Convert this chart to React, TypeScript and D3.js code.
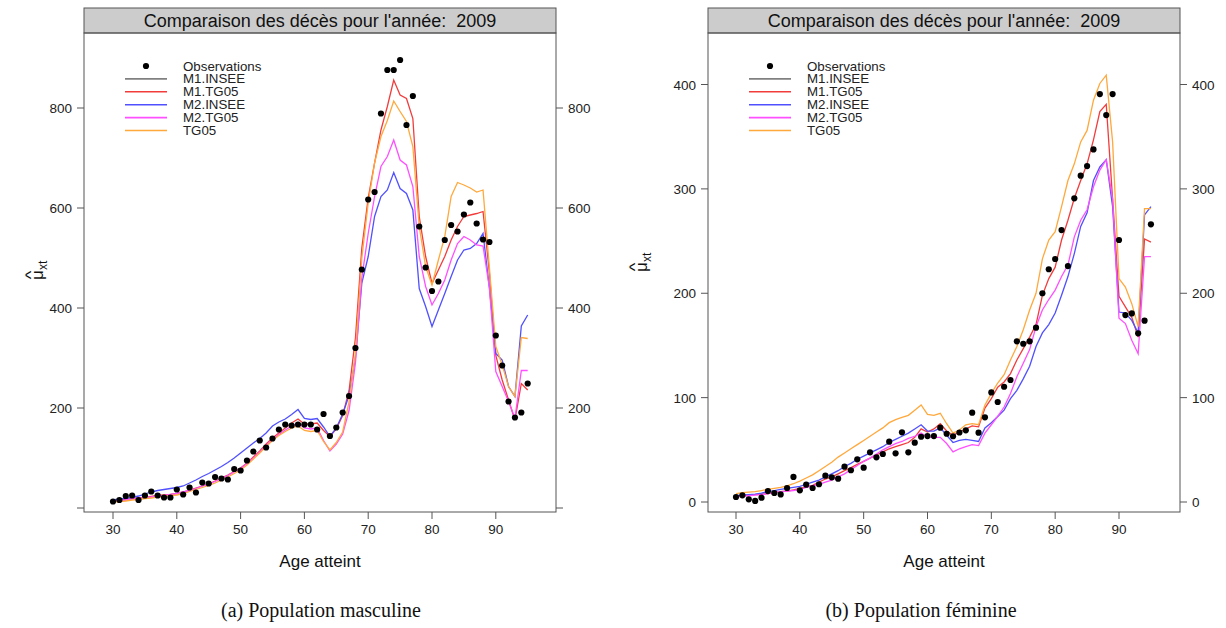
import React from "react";
import * as d3 from "d3";

// Ages (x axis categories)
const AGES = [30, 31, 32, 33, 34, 35, 36, 37, 38, 39, 40, 41, 42, 43, 44, 45, 46, 47, 48, 49, 50, 51, 52, 53, 54, 55, 56, 57, 58, 59, 60, 61, 62, 63, 64, 65, 66, 67, 68, 69, 70, 71, 72, 73, 74, 75, 76, 77, 78, 79, 80, 81, 82, 83, 84, 85, 86, 87, 88, 89, 90, 91, 92, 93, 94, 95];

// --- Population masculine ---
const OBS_MALE = [13, 16, 24, 25, 16, 25, 33, 25, 21, 21, 37, 27, 41, 31, 51, 49, 62, 59, 57, 78, 75, 95, 113, 135, 121, 139, 157, 167, 165, 167, 167, 167, 157, 188, 144, 161, 191, 224, 320, 477, 617, 632, 789, 876, 876, 896, 766, 824, 563, 481, 434, 453, 536, 566, 553, 587, 611, 569, 537, 532, 345, 285, 213, 181, 191, 249];
const M1_TG05_MALE = [15, 16, 17, 19, 20, 21, 23, 25, 26, 27, 29, 32, 36, 40, 44, 48, 54, 60, 66, 73, 80, 90, 102, 114, 128, 140, 150, 160, 170, 178, 168, 168, 170, 155, 143, 158, 185, 235, 340, 520, 620, 690, 756, 803, 856, 826, 819, 779, 583, 503, 449, 476, 503, 536, 563, 583, 586, 589, 593, 470, 305, 256, 216, 176, 249, 236];
const M2_INSEE_MALE = [16, 18, 19, 21, 24, 28, 32, 35, 37, 39, 41, 44, 50, 56, 63, 69, 76, 83, 91, 100, 110, 120, 130, 139, 150, 164, 172, 178, 187, 197, 179, 177, 179, 162, 143, 160, 188, 225, 300, 450, 503, 583, 623, 636, 671, 639, 629, 596, 439, 403, 363, 396, 429, 463, 496, 516, 519, 529, 549, 440, 309, 296, 243, 223, 364, 386];
const M2_TG05_MALE = [14, 15, 16, 18, 19, 21, 22, 24, 25, 27, 29, 32, 35, 39, 44, 48, 53, 59, 65, 72, 79, 89, 100, 112, 125, 137, 147, 156, 164, 170, 160, 158, 160, 135, 114, 128, 148, 195, 290, 460, 549, 623, 683, 703, 736, 696, 686, 643, 503, 443, 406, 429, 456, 496, 529, 543, 536, 526, 524, 440, 273, 243, 213, 179, 275, 275];
const TG05_MALE = [12, 13, 14, 16, 17, 19, 20, 22, 23, 25, 26, 29, 33, 37, 41, 45, 50, 56, 62, 69, 76, 86, 98, 110, 123, 135, 145, 153, 160, 164, 155, 153, 155, 133, 116, 131, 152, 212, 310, 500, 610, 690, 743, 775, 814, 793, 773, 723, 563, 483, 446, 496, 543, 623, 651, 646, 640, 632, 636, 480, 323, 286, 243, 223, 341, 339];

// --- Population féminine ---
const OBS_FEMALE = [4.8, 6.4, 2.6, 1, 4.1, 10.5, 8.6, 7.3, 13.4, 24, 11.2, 16.6, 13.4, 17, 25.2, 23.6, 22.3, 33.8, 30.4, 40.9, 32.9, 47.6, 42.8, 46, 57.8, 46.6, 66.8, 47.6, 56.8, 62.5, 63.2, 63.2, 71.2, 65.4, 63, 66.6, 68.7, 85.6, 66.4, 81.1, 105, 95.8, 110.4, 116.9, 153.9, 151.6, 153.9, 167, 200, 223, 232.8, 260.5, 226, 290.9, 312.6, 321.8, 337.8, 390.8, 370.7, 390.8, 251, 179.1, 180.7, 161.6, 173.7, 266];
const M1_TG05_FEMALE = [5, 6, 6.5, 7, 7.5, 8, 9, 10, 10.5, 11.5, 13, 14.5, 16, 19, 22, 24, 27, 30, 33, 36, 39, 42, 45, 48, 51, 53, 55, 57, 62, 70, 67, 70, 75, 68, 64, 67, 70, 73, 72, 90, 99, 110, 115, 123, 136, 147, 158, 170, 198, 214, 225, 251, 270, 291, 308, 324, 347, 374, 381, 290, 197, 187, 177, 158, 252, 249];
const M2_INSEE_FEMALE = [6, 6.5, 7, 7.5, 8.5, 10, 11, 12, 13, 14, 15, 17, 19, 21, 24, 27, 30, 34, 37, 41, 44, 47, 50, 53, 57, 60, 63, 66, 70, 74, 68, 68, 71, 64, 57, 59, 60, 59, 58, 71, 76, 82, 88, 99, 107, 118, 130, 149, 162, 170, 181, 198, 216, 238, 264, 277, 308, 321, 328, 283, 182, 181, 174, 162, 275, 283];
const M2_TG05_FEMALE = [5, 5.5, 6, 6.5, 7, 8, 9, 10, 10.5, 11, 12, 14, 15.5, 17, 19, 21, 24, 27, 31, 35, 39, 42, 46, 50, 53, 56, 58, 61, 63, 66, 62, 62, 62, 56, 48, 51, 53, 55, 54, 66, 74, 82, 91, 104, 120, 133, 146, 168, 184, 194, 203, 216, 227, 254, 270, 280, 302, 318, 328, 290, 176, 171, 155, 142, 235, 235];
const TG05_FEMALE = [8, 9, 9.5, 10, 11, 12, 13, 14, 15.5, 17.5, 20, 23, 26, 30, 34, 38, 43, 47, 51, 55, 59, 63, 67, 71, 76, 79, 81, 83, 88, 93, 84, 83, 85, 75, 66, 69, 74, 75, 74, 93, 104, 114, 122, 136, 149, 165, 184, 200, 233, 251, 259, 283, 308, 324, 345, 356, 385, 401, 409, 345, 214, 206, 190, 168, 281, 281];

const X_TICKS = [30, 40, 50, 60, 70, 80, 90];
const Y_TICKS_MALE = [0, 200, 400, 600, 800];
const Y_LABELS_MALE = ["", "200", "400", "600", "800"];
const Y_TICKS_FEMALE = [0, 100, 200, 300, 400];
const Y_LABELS_FEMALE = ["0", "100", "200", "300", "400"];

const TITLE = "Comparaison des décès pour l'année:  2009";
const X_TITLE = "Age atteint";
const LEGEND_LABELS = ["Observations", "M1.INSEE", "M1.TG05", "M2.INSEE", "M2.TG05", "TG05"];
const SERIES_COLORS = ["#000000", "#808080", "#f23c3c", "#5050ff", "#ff50ff", "#ffa83c"];

const SANS = "'Liberation Sans', Arial, Helvetica, sans-serif";
const SERIF = "'Liberation Serif', 'DejaVu Serif', serif";

type PanelProps = {
  left: number;
  right: number;
  xRange: [number, number];
  yDomain: [number, number];
  yRange: [number, number];
  yTicks: number[];
  yLabels: string[];
  obs: number[];
  m1Tg05: number[];
  m2Insee: number[];
  m2Tg05: number[];
  tg05: number[];
  yTitleY: number;
  yTitleX: number;
  caption: string;
  captionX: number;
};

const STRIP_TOP = 8;
const STRIP_BOTTOM = 33;
const BOX_BOTTOM = 512;

function Panel(p: PanelProps) {
  const x = d3.scaleLinear().domain([30, 90]).range(p.xRange);
  const y = d3.scaleLinear().domain(p.yDomain).range(p.yRange);
  const line = d3
    .line<number>()
    .x((_, i) => x(AGES[i]))
    .y((d) => y(d));
  const cx = (p.left + p.right) / 2;
  const series: [number[], string][] = [
    [p.m1Tg05, SERIES_COLORS[2]],
    [p.m2Insee, SERIES_COLORS[3]],
    [p.m2Tg05, SERIES_COLORS[4]],
    [p.tg05, SERIES_COLORS[5]],
  ];
  const tickLen = 7;
  const axisColor = "#555";
  return (
    <g>
      {/* strip */}
      <rect x={p.left} y={STRIP_TOP} width={p.right - p.left} height={STRIP_BOTTOM - STRIP_TOP} fill="#cccccc" stroke={axisColor} strokeWidth={1} />
      <text x={cx} y={27} textAnchor="middle" fontFamily={SANS} fontSize={18} fill="#111" style={{ whiteSpace: "pre" }}>
        {TITLE}
      </text>
      {/* plot area */}
      <clipPath id={`clip-${p.left}`}>
        <rect x={p.left} y={STRIP_BOTTOM} width={p.right - p.left} height={BOX_BOTTOM - STRIP_BOTTOM} />
      </clipPath>
      <g clipPath={`url(#clip-${p.left})`}>
        {series.map(([vals, color], k) => (
          <path key={k} d={line(vals) || ""} fill="none" stroke={color} strokeWidth={1.3} />
        ))}
        {p.obs.map((v, i) => (
          <circle key={i} cx={x(AGES[i])} cy={y(v)} r={3.1} fill="#000" />
        ))}
      </g>
      <rect x={p.left} y={STRIP_BOTTOM} width={p.right - p.left} height={BOX_BOTTOM - STRIP_BOTTOM} fill="none" stroke={axisColor} strokeWidth={1} />
      {/* x axis */}
      {X_TICKS.map((t) => (
        <g key={t}>
          <line x1={x(t)} x2={x(t)} y1={BOX_BOTTOM} y2={BOX_BOTTOM + tickLen} stroke={axisColor} />
          <text x={x(t)} y={BOX_BOTTOM + 22} textAnchor="middle" fontFamily={SANS} fontSize={13.5} fill="#222">
            {t}
          </text>
        </g>
      ))}
      {/* y axes on both sides */}
      {p.yTicks.map((t, i) => (
        <g key={t}>
          <line x1={p.left} x2={p.left - tickLen} y1={y(t)} y2={y(t)} stroke={axisColor} />
          <line x1={p.right} x2={p.right + tickLen} y1={y(t)} y2={y(t)} stroke={axisColor} />
          <text x={p.left - 12} y={y(t) + 5} textAnchor="end" fontFamily={SANS} fontSize={13.5} fill="#222">
            {p.yLabels[i]}
          </text>
          <text x={p.right + 12} y={y(t) + 5} textAnchor="start" fontFamily={SANS} fontSize={13.5} fill="#222">
            {p.yLabels[i]}
          </text>
        </g>
      ))}
      {/* axis titles */}
      <text x={cx} y={567} textAnchor="middle" fontFamily={SANS} fontSize={17} fill="#111">
        {X_TITLE}
      </text>
      <g transform={`translate(${p.yTitleX},${p.yTitleY}) rotate(-90)`} fontFamily={SANS} fill="#111">
        <text x={-10} y={0} fontSize={17}>μ</text>
        <text x={-5} y={-7} fontSize={14} textAnchor="middle" transform="scale(1.3,1)" style={{ transformBox: "fill-box", transformOrigin: "center" }}>^</text>
        <text x={0} y={4} fontSize={12}>xt</text>
      </g>
      {/* legend */}
      {LEGEND_LABELS.map((lab, i) => {
        const ly = 66 + i * 12.9;
        return (
          <g key={lab}>
            {i === 0 ? (
              <circle cx={p.left + 62} cy={ly} r={3.1} fill="#000" />
            ) : (
              <line x1={p.left + 41} x2={p.left + 83} y1={ly} y2={ly} stroke={SERIES_COLORS[i]} strokeWidth={1.6} />
            )}
            <text x={p.left + 99} y={ly + 4.5} fontFamily={SANS} fontSize={13.3} fill="#222">
              {lab}
            </text>
          </g>
        );
      })}
      {/* caption */}
      <text x={p.captionX} y={617} textAnchor="middle" fontFamily={SERIF} fontSize={20} fill="#111">
        {p.caption}
      </text>
    </g>
  );
}

export default function App() {
  return (
    <svg width={1226} height={628} style={{ position: "absolute", left: 0, top: 0, background: "#fff" }}>
      <rect width={1226} height={628} fill="#fff" />
      <Panel
        left={84}
        right={556}
        xRange={[113, 495.8]}
        yDomain={[0, 800]}
        yRange={[508, 108]}
        yTicks={Y_TICKS_MALE}
        yLabels={Y_LABELS_MALE}
        obs={OBS_MALE}
        m1Tg05={M1_TG05_MALE}
        m2Insee={M2_INSEE_MALE}
        m2Tg05={M2_TG05_MALE}
        tg05={TG05_MALE}
        yTitleX={43}
        yTitleY={270}
        caption="(a) Population masculine"
        captionX={321}
      />
      <Panel
        left={708}
        right={1180}
        xRange={[736, 1119]}
        yDomain={[0, 400]}
        yRange={[502, 84.5]}
        yTicks={Y_TICKS_FEMALE}
        yLabels={Y_LABELS_FEMALE}
        obs={OBS_FEMALE}
        m1Tg05={M1_TG05_FEMALE}
        m2Insee={M2_INSEE_FEMALE}
        m2Tg05={M2_TG05_FEMALE}
        tg05={TG05_FEMALE}
        yTitleX={647}
        yTitleY={262}
        caption="(b) Population féminine"
        captionX={921}
      />
    </svg>
  );
}
